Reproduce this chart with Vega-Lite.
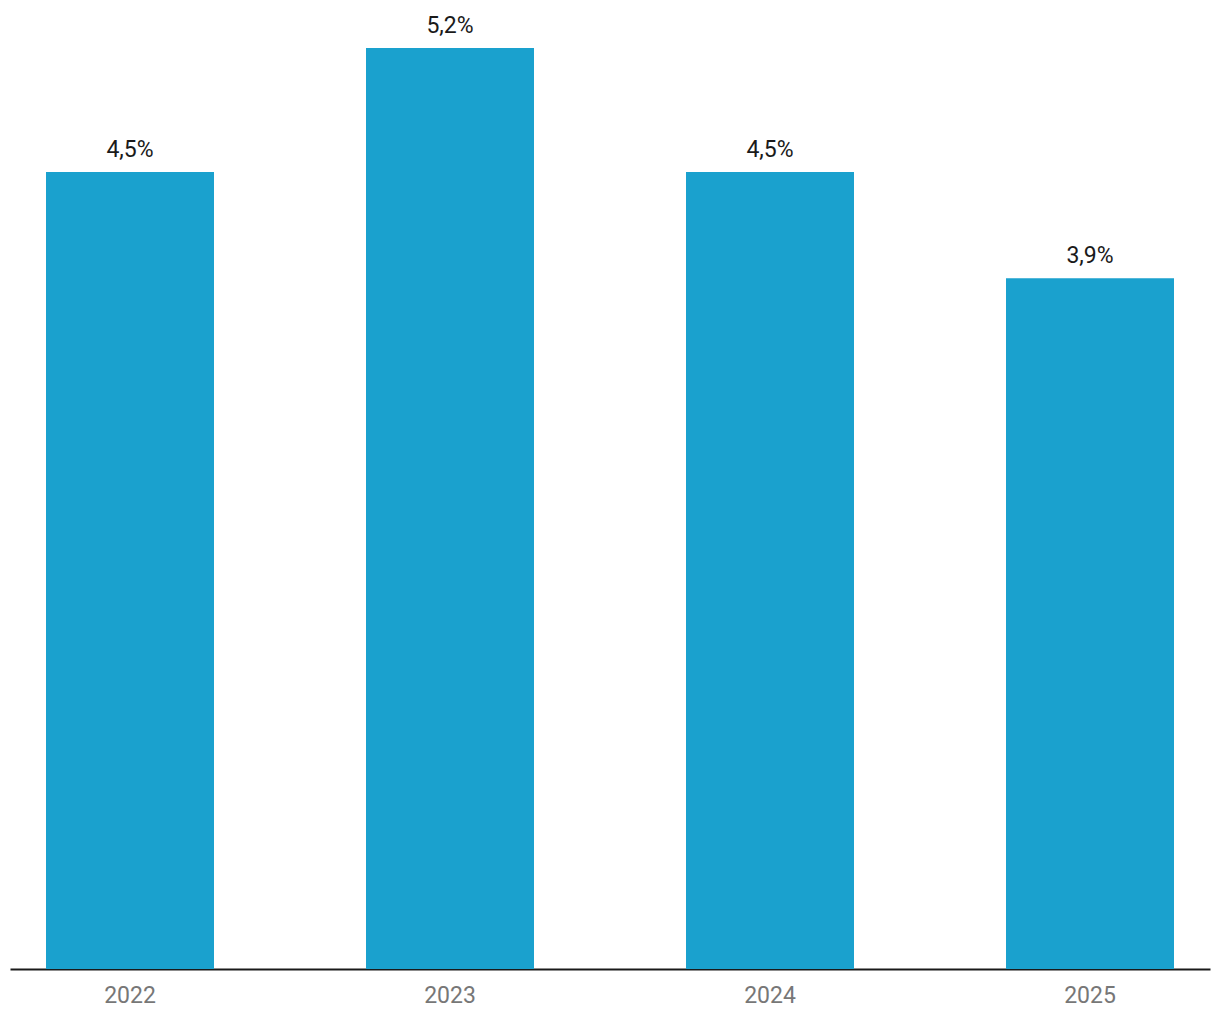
{
  "$schema": "https://vega.github.io/schema/vega-lite/v6.json",
  "width": 1200,
  "height": 959,
  "padding": {"left": 10, "right": 10, "top": 10, "bottom": 51},
  "autosize": {"type": "none"},
  "background": "white",
  "config": {"view": {"stroke": null}, "font": "Roboto"},
  "data": {"values": [
    {"year": "2022", "value": 4.5, "label": "4,5%"},
    {"year": "2023", "value": 5.2, "label": "5,2%"},
    {"year": "2024", "value": 4.5, "label": "4,5%"},
    {"year": "2025", "value": 3.9, "label": "3,9%"}
  ]},
  "encoding": {
    "x": {"field": "year", "type": "nominal", "title": null,
      "scale": {"paddingInner": 0.475, "paddingOuter": 0.1125},
      "axis": {"labelAngle": 0, "ticks": false, "domainColor": "#1a1a1a", "domainWidth": 2, "labelFontSize": 23, "labelColor": "#777777", "labelPadding": 15, "labelFont": "Roboto"}},
    "y": {"field": "value", "type": "quantitative", "scale": {"domain": [0, 5.415], "nice": false}, "axis": null}
  },
  "layer": [
    {"mark": {"type": "bar", "color": "#1aa1ce"}},
    {"mark": {"type": "text", "baseline": "bottom", "dy": -10, "fontSize": 23, "color": "#1a1a1a", "font": "Roboto"},
     "encoding": {"text": {"field": "label"}}}
  ]
}
